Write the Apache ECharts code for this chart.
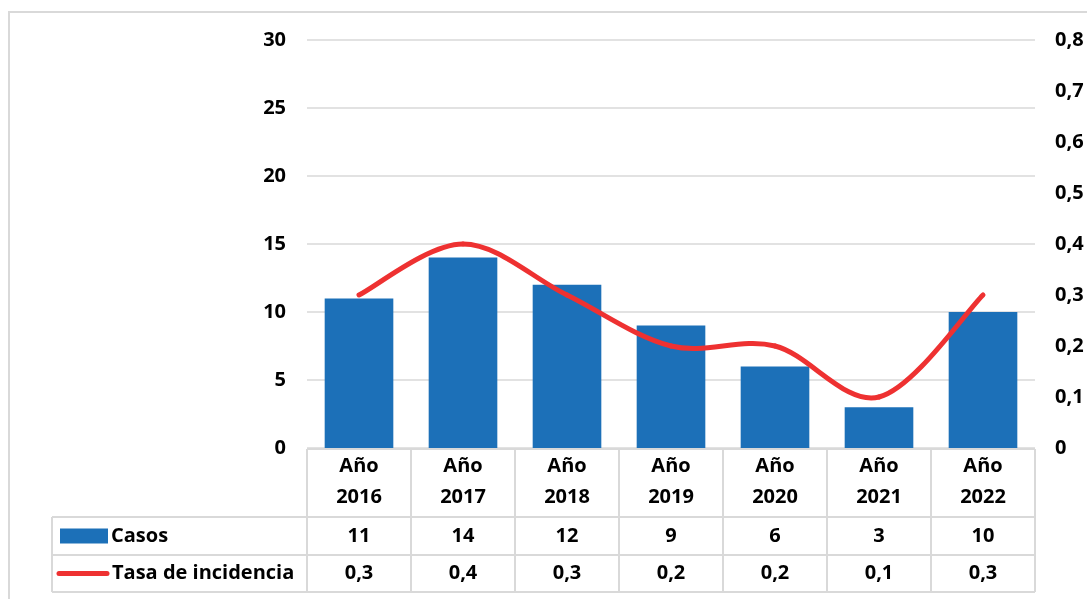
<!DOCTYPE html>
<html>
<head>
<meta charset="utf-8">
<script src="https://cdn.jsdelivr.net/npm/echarts@6/dist/echarts.min.js"></script>
<style>
  html, body { margin: 0; padding: 0; background: #fff; }
  #chart { width: 1087px; height: 599px; }
</style>
</head>
<body>
<div id="chart"></div>
<script>
// Casos y tasa de incidencia por año
const years = ['2016', '2017', '2018', '2019', '2020', '2021', '2022'];
const categories = years.map(y => 'Año\n' + y);
const casos = [11, 14, 12, 9, 6, 3, 10];
const tasa = [0.3, 0.4, 0.3, 0.2, 0.2, 0.1, 0.3];
const leftTicks = { min: 0, max: 30, interval: 5 };
const rightTicks = { min: 0, max: 0.8, interval: 0.1 };
const seriesNames = ['Casos', 'Tasa de incidencia'];

const BLUE = '#1c70b8';
const RED = '#ee3131';
const GRID = '#d9d9d9';
const FONT = '"Open Sans"';
const FS = 20;

const fmt = v => v.toFixed(1).replace('.', ',');

const chart = echarts.init(document.getElementById('chart'));

const gridBox = { left: 307, right: 52, top: 40, bottom: 151 };

const labelStyle = { fontSize: FS, fontWeight: 'bold', fontFamily: FONT, color: '#000' };

// Cardinal (Catmull-Rom) spline segment between point i and i+1
function renderSpline(params, api) {
  const i = params.dataIndex;
  const n = tasa.length;
  if (i >= n - 1) return null;
  const pt = j => {
    const k = Math.max(0, Math.min(n - 1, j));
    return api.coord([k, tasa[k]]);
  };
  const p0 = pt(i - 1), p1 = pt(i), p2 = pt(i + 1), p3 = pt(i + 2);
  const t = 1 / 6;
  return {
    type: 'bezierCurve',
    shape: {
      x1: p1[0], y1: p1[1],
      cpx1: p1[0] + (p2[0] - p0[0]) * t, cpy1: p1[1] + (p2[1] - p0[1]) * t,
      cpx2: p2[0] - (p3[0] - p1[0]) * t, cpy2: p2[1] - (p3[1] - p1[1]) * t,
      x2: p2[0], y2: p2[1]
    },
    style: { stroke: RED, lineWidth: 5, fill: null, lineCap: 'round' }
  };
}

chart.setOption({
  animation: false,
  textStyle: { fontFamily: FONT, fontWeight: 'bold', color: '#000' },
  grid: gridBox,
  xAxis: {
    type: 'category',
    data: categories,
    axisLine: { show: false },
    axisTick: { show: false },
    axisLabel: Object.assign({ margin: 3, lineHeight: 31 }, labelStyle)
  },
  yAxis: [
    {
      type: 'value',
      min: leftTicks.min, max: leftTicks.max, interval: leftTicks.interval,
      axisLine: { show: false },
      axisTick: { show: false },
      axisLabel: Object.assign({ margin: 21 }, labelStyle),
      splitLine: { lineStyle: { color: GRID, width: 1.5 } }
    },
    {
      type: 'value',
      position: 'right',
      min: rightTicks.min, max: rightTicks.max, interval: rightTicks.interval,
      axisLine: { show: false },
      axisTick: { show: false },
      axisLabel: Object.assign({
        margin: 20,
        formatter: v => v === 0 ? '0' : fmt(v)
      }, labelStyle),
      splitLine: { show: false }
    }
  ],
  series: [
    {
      name: seriesNames[0],
      type: 'bar',
      data: casos,
      barWidth: '66%',
      itemStyle: { color: BLUE }
    },
    {
      name: seriesNames[1],
      type: 'custom',
      yAxisIndex: 1,
      data: tasa.map((v, i) => [i, v]),
      encode: { x: 0, y: 1 },
      renderItem: renderSpline,
      clip: false,
      z: 5
    }
  ]
});

// Data table below the plot, aligned to the category bands
function buildTable() {
  const c0 = chart.convertToPixel({ xAxisIndex: 0 }, 0);
  const c1 = chart.convertToPixel({ xAxisIndex: 0 }, 1);
  const band = c1 - c0;
  const x0 = c0 - band / 2;
  const xEnd = x0 + band * years.length;
  const yTop = chart.convertToPixel({ yAxisIndex: 0 }, 0);
  const yRow1 = yTop + 69;
  const yRow2 = yRow1 + 38;
  const yBottom = yRow2 + 37;
  const legendLeft = 52;
  const lineStyle = { stroke: GRID, lineWidth: 2 };
  const els = [];

  const seg = (x1, y1, x2, y2) => els.push({
    type: 'line', silent: true,
    shape: { x1, y1, x2, y2 }, style: lineStyle
  });

  // outer frame of the chart area
  els.push({
    type: 'rect', silent: true,
    shape: { x: 9, y: 12, width: 1200, height: 700 },
    style: { fill: 'none', stroke: GRID, lineWidth: 2 }
  });

  // horizontal rules
  seg(x0, yTop + 1, xEnd, yTop + 1);
  seg(legendLeft, yRow1, xEnd, yRow1);
  seg(legendLeft, yRow2, xEnd, yRow2);
  seg(legendLeft, yBottom, xEnd, yBottom);
  // vertical rules
  seg(legendLeft, yRow1, legendLeft, yBottom);
  for (let i = 0; i <= years.length; i++) {
    const x = x0 + band * i;
    seg(x, yTop + 1, x, yBottom);
  }

  const cellText = (x, y, text, align) => els.push({
    type: 'text', silent: true,
    style: {
      x, y, text,
      fill: '#000',
      font: 'bold ' + FS + 'px ' + FONT,
      align: align || 'center',
      verticalAlign: 'middle'
    }
  });

  const r1 = (yRow1 + yRow2) / 2;
  const r2 = (yRow2 + yBottom) / 2;
  casos.forEach((v, i) => cellText(c0 + band * i, r1, String(v)));
  tasa.forEach((v, i) => cellText(c0 + band * i, r2, fmt(v)));

  // legend keys
  els.push({
    type: 'rect', silent: true,
    shape: { x: 60, y: r1 - 7.5, width: 48, height: 15 },
    style: { fill: BLUE }
  });
  els.push({
    type: 'line', silent: true,
    shape: { x1: 59, y1: r2, x2: 107, y2: r2 },
    style: { stroke: RED, lineWidth: 5, lineCap: 'round' }
  });
  cellText(111, r1, seriesNames[0], 'left');
  cellText(112, r2, seriesNames[1], 'left');

  chart.setOption({ graphic: { elements: els } });
}
buildTable();
</script>
</body>
</html>
